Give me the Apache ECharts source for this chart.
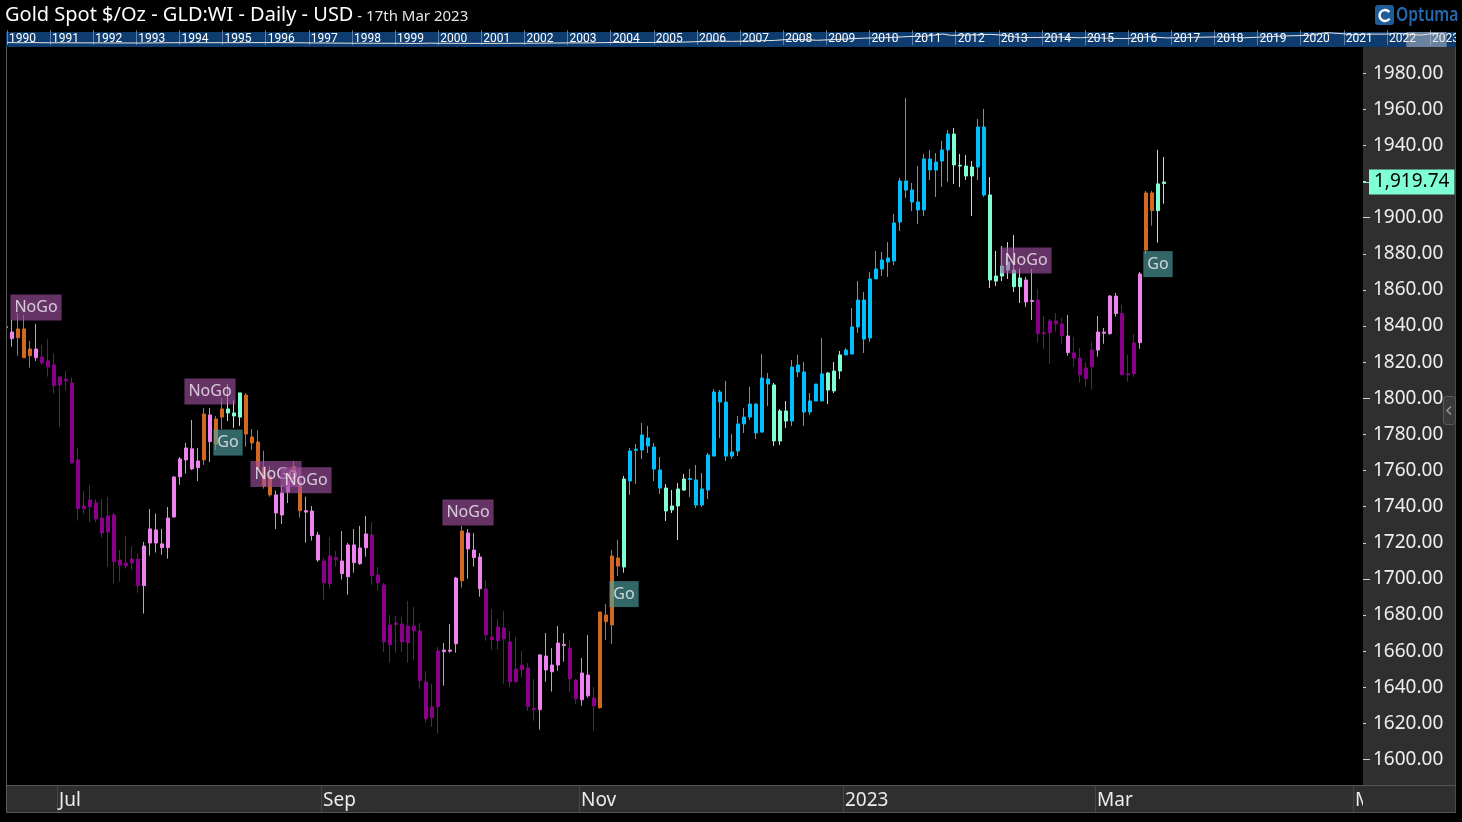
<!DOCTYPE html>
<html>
<head>
<meta charset="utf-8">
<script src="https://cdn.jsdelivr.net/npm/echarts@6.0.0/dist/echarts.min.js"></script>
<style>
html,body{margin:0;padding:0;background:#000;}
#chart{width:1462px;height:822px;}
</style>
</head>
<body>
<div id="chart"></div>
<script>
// ---------------- DATA ----------------
const startDate = '2022-06-20';   // first weekday bar (partly hidden at the left edge)
const slotCount = 227;            // weekday slots shown on the time axis (data + empty future)

const open = [
 1839.6,1836.7,1833.6,1838.4,1823.6,1827.3,1822.9,1820.7,1818.5,1807.4,
 1810.7,1808.5,1765.9,1738.9,1740.0,1742.1,1733.7,1726.0,1735.4,1710.5,
 1708.8,1708.8,1711.0,1696.3,1719.9,1727.1,1719.4,1717.3,1734.3,1756.6,
 1765.9,1772.0,1761.6,1765.9,1790.8,1774.7,1789.6,1794.1,1791.9,1789.6,
 1801.8,1778.6,1775.8,1762.0,1757.0,1746.5,1735.4,1748.1,1753.8,1753.8,
 1737.8,1737.6,1724.3,1709.9,1697.4,1711.8,1709.9,1701.2,1718.8,1708.4,
 1717.3,1724.3,1702.2,1696.6,1663.6,1675.6,1675.0,1664.7,1673.9,1671.1,
 1642.9,1623.2,1629.3,1660.6,1660.0,1664.1,1699.0,1725.4,1716.0,1712.1,
 1694.4,1667.8,1665.8,1672.8,1665.1,1643.1,1652.3,1650.7,1628.2,1627.6,
 1657.3,1652.3,1652.3,1663.7,1661.7,1644.0,1633.1,1646.8,1634.1,1628.7,
 1680.0,1674.5,1711.6,1706.6,1754.2,1771.2,1771.4,1778.0,1773.0,1760.3,
 1750.3,1738.2,1740.4,1749.2,1755.6,1754.8,1740.9,1749.2,1768.0,1803.5,
 1797.9,1768.0,1770.8,1785.8,1789.6,1796.8,1781.3,1810.7,1807.4,1776.4,
 1793.0,1787.4,1818.4,1814.6,1792.4,1798.5,1798.5,1814.0,1804.1,1815.1,
 1824.0,1824.5,1839.5,1854.4,1833.4,1866.1,1871.6,1877.7,1876.0,1897.6,
 1920.3,1915.3,1908.7,1904.3,1932.5,1926.4,1931.4,1937.5,1946.3,1929.0,
 1928.6,1923.1,1928.1,1950.2,1912.6,1864.9,1867.7,1875.5,1871.0,1861.8,
 1865.5,1854.2,1854.4,1836.3,1836.3,1842.8,1841.1,1834.5,1825.1,1822.3,
 1816.8,1817.5,1826.7,1836.6,1835.8,1856.6,1846.9,1813.0,1813.6,1830.8,
 1882.1,1913.7,1903.9,1918.9
];
const close = [
 1839.2,1833.0,1838.4,1822.5,1827.3,1822.5,1819.6,1817.4,1807.0,1811.8,
 1809.6,1764.2,1738.9,1740.4,1743.7,1733.2,1725.4,1734.9,1709.6,1707.7,
 1707.2,1711.0,1696.3,1718.2,1727.7,1719.9,1717.3,1733.7,1756.4,1766.4,
 1772.5,1760.9,1765.3,1791.3,1776.0,1788.5,1794.1,1791.9,1790.2,1803.0,
 1780.2,1775.3,1761.8,1751.4,1746.5,1736.5,1747.6,1753.8,1762.2,1737.8,
 1737.0,1724.0,1710.5,1697.9,1712.7,1710.7,1702.9,1718.8,1709.0,1717.1,
 1724.9,1701.8,1697.9,1665.2,1674.5,1674.7,1665.2,1673.9,1671.3,1643.7,
 1622.6,1629.1,1660.1,1659.7,1660.6,1700.5,1726.5,1716.6,1711.8,1694.6,
 1669.1,1666.4,1673.4,1666.9,1643.1,1650.1,1649.7,1629.3,1627.6,1657.9,
 1649.6,1648.6,1664.5,1663.1,1644.8,1633.7,1647.9,1635.3,1629.8,1681.7,
 1676.3,1712.7,1707.1,1755.3,1770.8,1771.8,1779.7,1773.6,1760.8,1750.3,
 1737.6,1740.4,1749.8,1755.3,1755.0,1740.9,1749.8,1768.6,1803.5,1797.9,
 1768.0,1770.3,1785.8,1789.6,1796.8,1780.8,1811.2,1807.9,1776.4,1793.0,
 1787.4,1817.3,1814.6,1792.4,1798.5,1807.9,1813.5,1804.6,1815.1,1824.0,
 1826.7,1839.5,1854.4,1832.8,1866.1,1871.6,1876.6,1875.5,1897.1,1920.3,
 1915.3,1908.7,1904.3,1932.5,1926.4,1930.8,1937.5,1946.3,1929.2,1928.6,
 1923.1,1928.1,1950.2,1912.6,1865.5,1867.7,1873.2,1871.0,1861.8,1866.6,
 1853.3,1853.6,1835.8,1835.7,1842.8,1841.3,1834.7,1825.3,1822.3,1813.1,
 1810.9,1826.7,1836.7,1836.0,1856.6,1846.9,1813.1,1813.6,1830.6,1868.8,
 1913.7,1903.9,1918.7,1919.74
];
const low = [
 1836.0,1828.6,1823.6,1822.5,1817.0,1820.7,1818.5,1812.0,1802.6,1784.3,
 1804.3,1763.8,1732.3,1736.1,1731.2,1731.4,1722.9,1706.8,1697.4,1698.5,
 1705.7,1705.1,1692.4,1680.8,1712.9,1714.6,1713.4,1711.2,1733.9,1752.2,
 1758.3,1760.3,1754.2,1763.1,1764.7,1771.4,1783.0,1787.4,1783.6,1784.7,
 1773.2,1771.4,1760.3,1750.0,1745.5,1727.6,1730.4,1742.0,1752.0,1733.9,
 1720.1,1721.2,1709.5,1688.5,1694.6,1706.8,1699.6,1691.3,1703.5,1707.9,
 1712.3,1696.8,1693.5,1659.7,1653.6,1659.2,1659.7,1653.6,1655.3,1639.2,
 1620.4,1618.2,1614.3,1640.9,1659.2,1659.2,1695.2,1700.1,1706.8,1690.2,
 1665.8,1660.8,1660.8,1642.0,1640.0,1642.5,1645.3,1627.0,1621.5,1616.5,
 1643.1,1637.6,1649.2,1654.2,1637.6,1630.9,1629.8,1634.2,1616.0,1628.2,
 1666.2,1664.0,1701.6,1703.5,1746.5,1752.6,1766.4,1769.7,1754.2,1747.0,
 1732.1,1736.5,1721.5,1748.7,1745.4,1739.3,1739.8,1744.2,1768.0,1778.0,
 1765.3,1766.4,1768.0,1780.8,1788.0,1777.5,1780.8,1795.7,1773.6,1774.1,
 1783.6,1784.7,1811.8,1784.7,1790.8,1798.5,1798.5,1796.8,1802.9,1810.7,
 1824.0,1824.5,1836.2,1825.1,1831.2,1866.1,1867.7,1867.2,1873.8,1892.6,
 1910.9,1903.7,1896.5,1900.9,1920.9,1911.5,1917.0,1919.8,1918.7,1917.0,
 1920.9,1900.9,1920.9,1911.5,1861.1,1862.2,1864.9,1866.0,1858.9,1852.8,
 1850.6,1843.4,1830.8,1827.3,1819.2,1836.9,1830.2,1823.6,1817.5,1808.6,
 1806.4,1804.8,1823.1,1830.2,1835.2,1845.2,1812.5,1809.2,1811.9,1827.5,
 1880.0,1895.6,1886.2,1907.8
];
const high = [
 1841.0,1843.4,1847.1,1846.2,1831.8,1841.2,1829.5,1832.7,1824.9,1812.4,
 1815.1,1811.6,1772.5,1748.7,1752.0,1744.1,1744.3,1745.4,1736.5,1716.0,
 1723.8,1718.2,1714.4,1720.5,1738.7,1736.1,1727.7,1739.8,1757.0,1767.5,
 1775.3,1788.0,1772.5,1794.6,1794.6,1790.2,1800.2,1807.9,1799.1,1803.0,
 1803.0,1783.0,1782.4,1771.0,1762.5,1748.9,1752.0,1756.6,1765.3,1760.3,
 1745.5,1740.4,1726.0,1711.6,1723.2,1715.4,1726.5,1719.9,1727.6,1729.3,
 1734.8,1731.5,1706.6,1697.7,1680.0,1679.5,1678.9,1687.8,1684.4,1675.6,
 1649.0,1642.0,1662.3,1664.5,1675.0,1701.1,1729.3,1727.6,1725.4,1714.3,
 1699.4,1683.3,1677.8,1682.2,1671.1,1667.8,1660.1,1653.4,1644.6,1658.4,
 1670.0,1661.7,1673.9,1670.0,1666.2,1644.6,1656.2,1668.9,1640.1,1681.7,
 1686.1,1716.0,1721.5,1757.0,1772.5,1774.7,1786.3,1784.7,1775.2,1767.5,
 1752.5,1749.2,1753.1,1758.1,1760.9,1763.1,1758.6,1769.7,1805.1,1804.6,
 1809.6,1780.2,1790.2,1794.6,1806.3,1797.4,1824.5,1814.0,1808.5,1794.1,
 1798.5,1821.2,1824.0,1820.1,1802.9,1807.9,1833.4,1814.6,1820.1,1826.2,
 1827.8,1850.0,1864.9,1858.8,1869.9,1881.6,1881.0,1886.5,1902.1,1922.0,
 1966.3,1919.2,1928.6,1935.3,1937.5,1935.8,1942.5,1948.6,1949.7,1935.3,
 1934.7,1931.4,1954.6,1960.2,1922.5,1881.6,1884.3,1886.5,1890.4,1872.1,
 1867.2,1871.6,1860.5,1845.6,1843.9,1847.2,1844.5,1846.1,1833.9,1827.8,
 1820.1,1831.2,1845.6,1838.9,1857.2,1858.3,1851.7,1824.0,1835.6,1869.9,
 1914.8,1914.8,1937.5,1933.6
];
// GoNoGo trend state per bar: B strong Go, A weak Go, O amber, V weak NoGo, P strong NoGo
const trend =
 'VVOOOVPPPP' + 'PPPPPPPPPP' + 'PPPVVVVVVV' + 'VVVOVOOAAA' + 'OOOOOVVVOO' +
 'VVVPPPVVVV' + 'VPPPPPPPPP' + 'PPPVVVOVVV' + 'PPPPPPPPPV' + 'VVVVPPVVPO' +
 'OOOABBBBBB' + 'AAAABBBBBB' + 'BBBBBBBBAA' + 'ABBBBBBAAA' + 'BBBBBBBBBB' +
 'BBBBBBBBAA' + 'AABBAAAAAA' + 'VVPPPPPVPP' + 'PPVVVVPPPV' + 'OOAA';

// Go / NoGo signal labels (bar index, text)
const signalIdx  = [5, 34, 45, 50, 77, 170, 37, 103, 192];
const signalText = ['NoGo','NoGo','NoGo','NoGo','NoGo','NoGo','Go','Go','Go'];

// price-axis tick labels
const yTicks = [1600,1620,1640,1660,1680,1700,1720,1740,1760,1780,1800,1820,1840,1860,1880,1900,1920,1940,1960,1980];
const yMajorTicks = [1600,1700,1800,1900];

// overview strip: years and long-term gold line
const navYears = [1990,1991,1992,1993,1994,1995,1996,1997,1998,1999,2000,2001,2002,2003,2004,2005,2006,
                  2007,2008,2009,2010,2011,2012,2013,2014,2015,2016,2017,2018,2019,2020,2021,2022,2023];
const navX = [1990.0,1990.3,1990.6,1991.0,1991.5,1992.0,1992.5,1993.0,1993.4,1993.8,1994.5,1995.0,1995.5,1996.0,1996.5,
              1997.0,1997.5,1998.0,1998.5,1999.0,1999.5,1999.8,2000.0,2000.5,2001.0,2001.5,2002.0,2002.5,2003.0,2003.5,
              2004.0,2004.5,2005.0,2005.5,2006.0,2006.4,2006.8,2007.3,2007.8,2008.2,2008.8,2009.2,2009.9,2010.5,2010.9,
              2011.3,2011.7,2011.9,2012.3,2012.8,2013.0,2013.5,2013.9,2014.3,2014.9,2015.1,2015.5,2015.95,2016.5,2016.9,
              2017.5,2018.1,2018.7,2019.0,2019.7,2020.2,2020.6,2021.0,2021.2,2021.5,2022.0,2022.2,2022.8,2023.0,2023.2];
const navP = [410,370,400,365,360,355,340,330,350,380,385,380,385,405,385,
              350,325,295,290,285,260,310,285,275,265,275,290,315,350,350,
              410,400,425,440,550,680,600,670,760,960,780,900,1140,1230,1400,
              1450,1820,1590,1650,1760,1670,1230,1240,1320,1190,1290,1120,1060,1350,1170,
              1260,1340,1190,1290,1510,1600,2050,1850,1700,1800,1800,1950,1630,1850,1920];

const monthNames = ['Jan','Feb','Mar','Apr','May','Jun','Jul','Aug','Sep','Oct','Nov','Dec'];

// ---------------- sanity ----------------
[open, close, low, high].forEach((a, k) => {
  if (a.length !== trend.length) throw new Error('length mismatch ' + k + ': ' + a.length + ' vs ' + trend.length);
});
if (navX.length !== navP.length) throw new Error('nav mismatch');

// ---------------- build ----------------
const trendColors = {P:'#8B008B', V:'#EE82EE', O:'#D2691E', B:'#00BFFF', A:'#7FFFD4'};

const dates = [];
(function(){
  const d = new Date(startDate + 'T00:00:00Z');
  while (dates.length < slotCount) {
    const w = d.getUTCDay();
    if (w !== 0 && w !== 6) dates.push(d.toISOString().slice(0,10));
    d.setUTCDate(d.getUTCDate() + 1);
  }
})();

const monthTicks = [];
const monthTickText = {};
for (let i = 1; i < dates.length; i++) {
  const m = +dates[i].slice(5,7) - 1, pm = +dates[i-1].slice(5,7) - 1;
  if (m !== pm && m % 2 === 0) {
    const v = i - 0.5;
    monthTicks.push(v);
    monthTickText[Math.round(v*2)] = m === 0 ? dates[i].slice(0,4) : monthNames[m];
  }
}

const candleData = open.map((o, i) => {
  const c = trendColors[trend[i]];
  return { value: [i, o, close[i], low[i], high[i]],
           itemStyle: { color: c, color0: c, borderColor: c, borderColor0: c } };
});

const signalData = signalIdx.map((idx, k) => {
  const isGo = signalText[k] === 'Go';
  return {
    name: signalText[k],
    value: [idx, isGo ? low[idx] : high[idx]],
    label: {
      position: isGo ? 'bottom' : 'top',
      distance: isGo ? 8 : 3,
      backgroundColor: isGo ? 'rgba(80,160,160,0.8)' : 'rgba(160,80,160,0.8)'
    }
  };
});

const lastPrice = close[close.length - 1];
const fmtPrice = v => v.toFixed(2).replace(/\B(?=(\d{3})+(?!\d))/g, ',');

// layout constants (pixels)
const plotLeft = 7, plotTop = 47, plotW = 1356, plotH = 738;
const barStep = 6;                      // px per weekday
const firstBarX = 6;                    // x of bar 0
const xMin = (plotLeft - firstBarX) / barStep;
const xMax = xMin + plotW / barStep;
const yMin = 1585.9, yMax = 1994.5;

const navLeft = 6, navTop = 32, navW = 1450, navH = 15;
const navPxPerYear = 43.4;
const navMin = 1990 - (7 - navLeft) / navPxPerYear;
const navMax = navMin + navW / navPxPerYear;

// title measurement
const mctx = document.createElement('canvas').getContext('2d');
const titleMain = 'Gold Spot $/Oz - GLD:WI - Daily - USD';
const titleSub = ' - 17th Mar 2023';
mctx.font = '20px "Noto Sans"';
const titleW = mctx.measureText(titleMain).width;

const chart = echarts.init(document.getElementById('chart'), null, {renderer: 'canvas'});

const option = {
  backgroundColor: '#000',
  animation: false,
  grid: [
    {left: plotLeft, top: plotTop, width: plotW, height: plotH, containLabel: false},
    {left: navLeft, top: navTop, width: navW, height: navH, containLabel: false}
  ],
  xAxis: [
    {
      type: 'value', gridIndex: 0, min: xMin, max: xMax, position: 'bottom',
      axisLine: {show: true, lineStyle: {color: '#555', width: 1}},
      axisTick: {show: true, customValues: monthTicks, length: 27, lineStyle: {color: '#474747'}},
      axisLabel: {
        show: true, customValues: monthTicks,
        formatter: v => monthTickText[Math.round(v*2)] || '',
        color: '#ececec', fontSize: 19, fontFamily: 'Noto Sans',
        align: 'left', margin: 6, padding: [0,0,0,2]
      },
      splitLine: {show: false}
    },
    {
      type: 'value', gridIndex: 1, min: navMin, max: navMax, position: 'bottom',
      axisLine: {show: false},
      axisTick: {show: true, inside: true, length: navH, customValues: navYears,
                 lineStyle: {color: 'rgba(150,175,215,0.6)'}},
      axisLabel: {show: true, inside: true, customValues: navYears, margin: 8,
                  formatter: v => String(Math.round(v)),
                  verticalAlign: 'middle', align: 'left', padding: [0,0,0,2],
                  color: '#ffffff', fontSize: 12, fontFamily: 'Roboto'},
      splitLine: {show: false}
    }
  ],
  yAxis: [
    {
      type: 'value', gridIndex: 0, position: 'right', min: yMin, max: yMax,
      axisLine: {show: false},
      axisTick: {show: true, customValues: yTicks, length: 3, lineStyle: {color: '#cfcfcf'}},
      axisLabel: {show: true, customValues: yTicks, formatter: v => v.toFixed(2),
                  color: '#eeeeee', fontSize: 19, fontFamily: 'Noto Sans', margin: 10},
      splitLine: {show: false}
    },
    {
      type: 'value', gridIndex: 0, position: 'right', min: yMin, max: yMax,
      axisLine: {show: false},
      axisTick: {show: true, customValues: yMajorTicks, length: 7, lineStyle: {color: '#cfcfcf'}},
      axisLabel: {show: false},
      splitLine: {show: false}
    },
    {
      type: 'value', gridIndex: 0, position: 'right', min: yMin, max: yMax, z: 6,
      axisLine: {show: false},
      axisTick: {show: true, customValues: [lastPrice], length: 6, lineStyle: {color: '#7FFFD4'}},
      axisLabel: {show: true, customValues: [lastPrice], formatter: v => fmtPrice(v),
                  color: '#000', backgroundColor: '#7FFFD4', padding: [2,5,2,5],
                  fontSize: 19, lineHeight: 21, fontFamily: 'Noto Sans', margin: 6},
      splitLine: {show: false}
    },
    {type: 'value', gridIndex: 1, min: -330, max: 2150, show: false}
  ],
  series: [
    {
      type: 'candlestick', name: 'Gold', xAxisIndex: 0, yAxisIndex: 0,
      data: candleData, encode: {x: 0, y: [1,2,3,4]},
      barWidth: 3, itemStyle: {borderWidth: 1}, silent: true, z: 2
    },
    {
      type: 'scatter', name: 'signals', xAxisIndex: 0, yAxisIndex: 0,
      data: signalData, symbolSize: 1, itemStyle: {color: 'transparent'}, silent: true, z: 5,
      label: {show: true, formatter: p => p.name, color: '#f4f0f4', fontSize: 16,
              fontFamily: 'Noto Sans', lineHeight: 20, padding: [3,4,3,4]}
    },
    {
      type: 'line', name: 'history', xAxisIndex: 1, yAxisIndex: 3,
      data: navX.map((x, i) => [x, navP[i]]), showSymbol: false, symbol: 'none', silent: true, z: 4,
      lineStyle: {color: '#e6e6e6', width: 1},
      markArea: {silent: true, itemStyle: {color: 'rgba(215,215,215,0.45)'},
                 data: [[{xAxis: 2022.45}, {xAxis: navMax}]]}
    }
  ],
  graphic: [
    // panel backgrounds
    {type: 'rect', z: -1, silent: true, shape: {x: 1363, y: 47, width: 93, height: 739}, style: {fill: '#2f2f2f'}},
    {type: 'rect', z: -1, silent: true, shape: {x: 6, y: 786, width: 1450, height: 27}, style: {fill: '#2f2f2f'}},
    {type: 'rect', z: -1, silent: true, shape: {x: 6, y: 32, width: 1450, height: 15}, style: {fill: '#0f3c6e'}},
    // covers / borders
    {type: 'rect', z: 10, silent: true, shape: {x: 1363, y: 787, width: 93, height: 25}, style: {fill: '#2f2f2f'}},
    {type: 'rect', z: 10, silent: true, shape: {x: 0, y: 30, width: 6, height: 792}, style: {fill: '#000'}},
    {type: 'rect', z: 10, silent: true, shape: {x: 1456, y: 30, width: 6, height: 792}, style: {fill: '#000'}},
    {type: 'line', z: 11, silent: true, shape: {x1: 6.5, y1: 47, x2: 6.5, y2: 813}, style: {stroke: '#5a5a5a', lineWidth: 1}},
    {type: 'line', z: 11, silent: true, shape: {x1: 1455.5, y1: 47, x2: 1455.5, y2: 813}, style: {stroke: '#4a4a4a', lineWidth: 1}},
    {type: 'line', z: 11, silent: true, shape: {x1: 6, y1: 812.5, x2: 1456, y2: 812.5}, style: {stroke: '#555', lineWidth: 1}},
    {type: 'line', z: 11, silent: true, shape: {x1: 1363, y1: 785.5, x2: 1456, y2: 785.5}, style: {stroke: '#555', lineWidth: 1}},
    // collapse button
    {type: 'rect', z: 11, silent: true, shape: {x: 1443.5, y: 396.5, width: 12, height: 28, r: 3},
     style: {fill: '#3a3a3a', stroke: '#5c5c5c', lineWidth: 1}},
    {type: 'polyline', z: 12, silent: true, shape: {points: [[1451,406.5],[1447,410.5],[1451,414.5]]},
     style: {stroke: '#9a9a9a', lineWidth: 1.5, fill: null}},
    // logo
    {type: 'rect', z: 11, silent: true, shape: {x: 1375, y: 5, width: 19, height: 20, r: 3}, style: {fill: '#1f5c9a'}},
    {type: 'arc', z: 12, silent: true, shape: {cx: 1385, cy: 15.5, r: 5.5, startAngle: 0.6, endAngle: 5.6},
     style: {stroke: '#ffffff', lineWidth: 2.4, fill: null}},
    {type: 'text', z: 12, silent: true, x: 1396, y: 15.5, scaleX: 0.78,
     style: {text: 'Optuma', fill: '#2468b0', font: '600 20px "Noto Sans"', verticalAlign: 'middle', align: 'left'}},
    // titles
    {type: 'text', z: 12, silent: true, x: 5, y: 15,
     style: {text: titleMain, fill: '#ffffff', font: '20px "Noto Sans"', verticalAlign: 'middle', align: 'left'}},
    {type: 'text', z: 12, silent: true, x: 5 + titleW, y: 17,
     style: {text: titleSub, fill: '#e6e6e6', font: '15px "Noto Sans"', verticalAlign: 'middle', align: 'left'}}
  ]
};

chart.setOption(option);
</script>
</body>
</html>
